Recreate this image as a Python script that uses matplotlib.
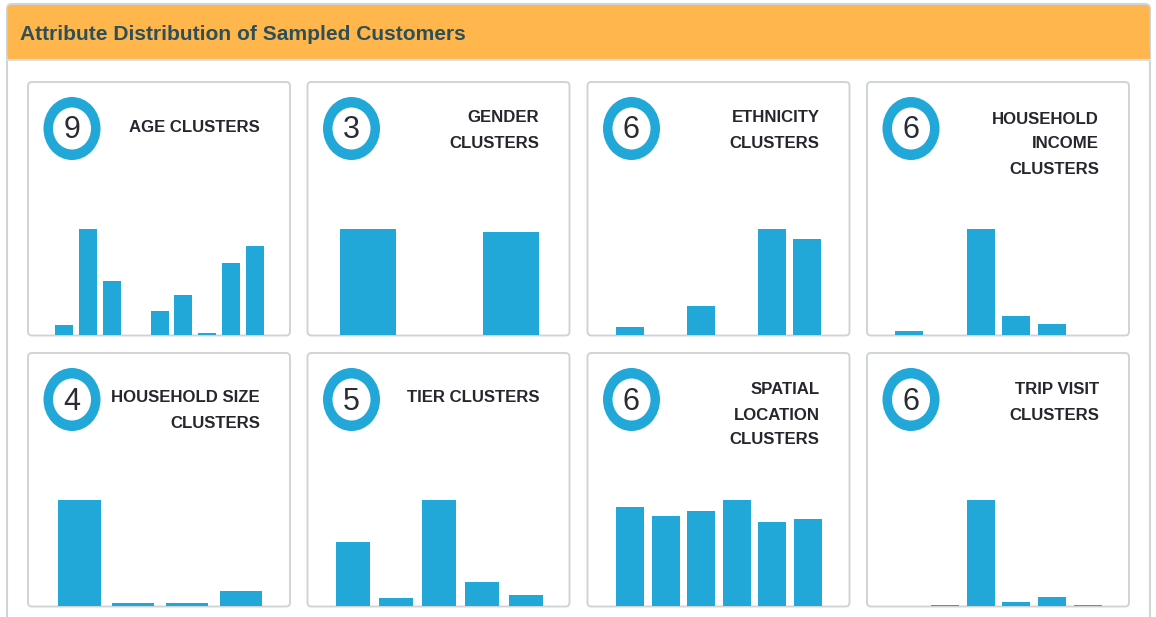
import matplotlib
matplotlib.use("Agg")
import matplotlib.pyplot as plt
from matplotlib.patches import FancyBboxPatch, Ellipse, Rectangle

plt.rcParams['font.family'] = ['Liberation Sans', 'DejaVu Sans']

W, H = 1156, 617
title = "Attribute Distribution of Sampled Customers"

# data (tallest bar in a card = 100)
cluster_counts = [9, 3, 6, 6, 4, 5, 6, 6]
card_titles = [
    ["AGE CLUSTERS"],
    ["GENDER", "CLUSTERS"],
    ["ETHNICITY", "CLUSTERS"],
    ["HOUSEHOLD", "INCOME", "CLUSTERS"],
    ["HOUSEHOLD SIZE", "CLUSTERS"],
    ["TIER CLUSTERS"],
    ["SPATIAL", "LOCATION", "CLUSTERS"],
    ["TRIP VISIT", "CLUSTERS"],
]
age = [9.4, 100, 51, 0, 23, 38, 1.5, 68, 84]
gender = [100, 0, 97]
ethnicity = [7.5, 0, 27, 0, 100, 91]
income = [4, 0, 100, 18, 10, 0]
hh_size = [100, 3, 2.5, 14]
tier = [60, 8, 100, 23, 10]
spatial = [93, 85, 90, 100, 79, 82]
trip = [0, 0.5, 100, 3.4, 8.5, 1]
values = [age, gender, ethnicity, income, hh_size, tier, spatial, trip]

# layout in pixels
card_x = [28, 307.5, 587.5, 867]
card_y = [82, 353]
card_w, card_h = 262, 253.5
bar_left = [55, 340, 616, 895, 58, 336, 616, 895]
bar_right = [264, 539, 821, 1102, 262, 542.5, 822, 1102]
bar_width = [18, 56, 28, 28, 42.5, 34, 28, 28]
text_first = [49.5, 40.5, 40.5, 41.5, 49.5, 49.5, 41.5, 41.5]

blue = "#22a7d9"
border = "#cfd4d8"

fig = plt.figure(figsize=(W / 100, H / 100), dpi=100)
bg = fig.add_axes([0, 0, 1, 1])
bg.set_xlim(0, W)
bg.set_ylim(H, 0)
bg.axis("off")

# outer panel and header
bg.add_patch(FancyBboxPatch((7, 4), 1143, 700, boxstyle="round,pad=0,rounding_size=5",
                            fc="white", ec=border, lw=1.5))
bg.add_patch(FancyBboxPatch((7.5, 5), 1142, 54, boxstyle="round,pad=0,rounding_size=4",
                            fc="#ffb64d", ec="none"))
bg.add_patch(Rectangle((7.5, 50), 1142, 9, fc="#ffb64d", ec="none"))
bg.plot([7, 1150], [60, 60], color="#dcdfe2", lw=1.5)
bg.text(20, 40, title, fontsize=15.15, fontweight="bold", color="#2f4f55", va="baseline")

for i in range(8):
    x0 = card_x[i % 4]
    y0 = card_y[i // 4]
    bg.add_patch(FancyBboxPatch((x0, y0), card_w, card_h, boxstyle="round,pad=0,rounding_size=4",
                                fc="white", ec=border, lw=1.4))

    # ring with the cluster count
    cx, cy = x0 + 44, y0 + 46.5
    bg.add_patch(Ellipse((cx, cy), 57, 63, fc=blue, ec="none"))
    bg.add_patch(Ellipse((cx, cy), 38, 42, fc="white", ec="none"))
    bg.text(cx, y0 + 56.5, str(cluster_counts[i]), fontsize=22, color="#2b2b33",
            ha="center", va="baseline")

    # card title, right aligned
    for j, line in enumerate(card_titles[i]):
        bg.text(x0 + 232, y0 + text_first[i] + 25 * j, line, fontsize=12.1, fontweight="bold",
                color="#26262e", ha="right", va="baseline")

    # bars
    top = y0 + 147
    bottom = y0 + 253
    ax = fig.add_axes([bar_left[i] / W, 1 - bottom / H,
                       (bar_right[i] - bar_left[i]) / W, (bottom - top) / H])
    n = len(values[i])
    step = (bar_right[i] - bar_left[i] - bar_width[i]) / (n - 1)
    w = bar_width[i] / step
    ax.bar(range(n), values[i], width=w, color=blue)
    ax.set_xlim(-w / 2, n - 1 + w / 2)
    ax.set_ylim(0, 100)
    ax.axis("off")

fig.savefig("out.png", dpi=100)
